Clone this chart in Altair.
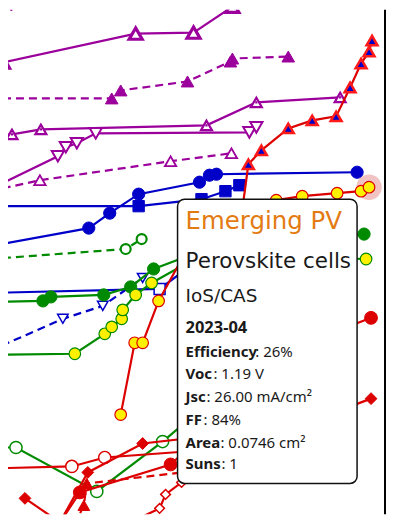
import altair as alt
import pandas as pd

# ---------------- data (years, efficiency %) ----------------
X_DOMAIN = [2008.8, 2023.92]
Y_DOMAIN = [9.6, 34.9]

# purple (multijunction-like) series
P1_year = [2008.28, 2009.60]
P1_eff = [34.40, 35.40]
P2_year = [2008.60, 2013.92, 2016.24, 2017.80]
P2_eff = [32.25, 33.70, 33.75, 35.05]
P3_year = [2008.08, 2012.96, 2013.32, 2016.00, 2017.72, 2017.80, 2020.04]
P3_eff = [30.45, 30.45, 30.85, 31.30, 32.30, 32.45, 32.55]
P4_year = [2008.08, 2008.96, 2010.12, 2016.76, 2018.76, 2022.12]
P4_eff = [28.55, 28.65, 28.90, 29.10, 30.25, 30.50]
P5_year = [2008.08, 2010.80, 2011.12, 2011.56, 2012.32, 2018.48, 2018.76]
P5_eff = [25.90, 27.55, 28.00, 28.20, 28.70, 28.75, 29.00]
P6_year = [2008.08, 2010.08, 2015.32, 2017.76]
P6_eff = [25.80, 26.35, 27.30, 27.70]

# blue series
B1_year = [2008.08, 2012.04, 2012.88, 2014.04, 2016.48, 2016.88, 2017.16, 2022.80]
B1_eff = [23.05, 23.95, 24.70, 25.65, 26.25, 26.60, 26.65, 26.75]
B2_year = [2008.08, 2014.04, 2016.56, 2017.52, 2018.08]
B2_eff = [25.05, 25.05, 25.40, 25.80, 26.10]
B3_year = [2008.08, 2014.88, 2016.28]
B3_eff = [20.70, 20.90, 22.20]
B4_year = [2008.08, 2011.00, 2012.60, 2014.20]
B4_eff = [17.80, 19.40, 20.05, 21.45]

# green series
G1_year = [2008.08, 2013.52, 2014.16]
G1_eff = [22.40, 22.90, 23.40]
G2_year = [2008.08, 2010.20, 2010.52, 2012.64, 2013.72, 2014.64, 2017.28, 2023.08]
G2_eff = [20.25, 20.30, 20.50, 20.60, 21.00, 21.90, 23.15, 23.65]
G3_year = [2008.08, 2011.48, 2012.68, 2012.96, 2013.36, 2013.40, 2013.92, 2014.56, 2016.48, 2023.16]
G3_eff = [17.60, 17.65, 18.65, 19.00, 19.40, 19.85, 20.60, 21.20, 22.55, 22.40]
G4_year = [2008.08, 2009.12, 2012.36, 2015.00, 2016.48]
G4_eff = [12.95, 12.95, 10.75, 13.25, 14.80]

# red series
R1_year = [2013.32, 2013.88, 2014.20, 2014.84, 2016.28, 2019.56, 2020.60, 2022.00, 2022.96, 2023.28]
R1_eff = [14.60, 18.20, 18.20, 20.30, 23.55, 25.35, 25.55, 25.70, 25.80, 26.00]
T_year = [2018.08, 2018.44, 2018.96, 2020.04, 2021.00, 2021.96, 2022.52, 2022.96, 2023.28, 2023.40]
T_eff = [23.80, 27.15, 27.85, 28.95, 29.35, 29.55, 31.00, 32.20, 32.80, 33.35]
R2_year = [2010.68, 2011.68, 2015.32, 2020.48, 2023.36]
R2_eff = [8.80, 10.70, 12.10, 18.05, 19.45]
R3_year = [2009.48, 2010.88, 2012.00, 2014.20, 2020.48, 2023.36]
R3_eff = [10.40, 9.20, 11.70, 13.15, 14.05, 15.40]
R4_year = [2008.08, 2011.36, 2012.68, 2016.48]
R4_eff = [11.90, 12.00, 12.45, 12.80]
R5_year = [2010.96, 2011.56, 2011.84, 2011.96, 2016.48]
R5_eff = [8.80, 9.30, 10.05, 11.15, 11.80]
R6_year = [2012.88, 2013.80, 2014.88, 2015.12, 2015.76, 2017.28]
R6_eff = [8.30, 9.25, 9.90, 10.60, 11.20, 11.80]

HL_YEAR = 2023.28
HL_EFF = 26.00

TIP_GROUP = "Emerging PV"
TIP_NAME = "Perovskite cells"
TIP_LAB = "IoS/CAS"
TIP_DATE = "2023-04"
TIP_KEYS = ["Efficiency", "Voc", "Jsc", "FF", "Area", "Suns"]
TIP_VALS = [": 26%", ": 1.19 V", ": 26.00 mA/cm\u00b2", ": 84%", ": 0.0746 cm\u00b2", ": 1"]

# ---------------- styles ----------------
PUR = "#9c009c"
BLU = "#0000c8"
GRN = "#008a00"
RED = "#dc0000"
YEL = "#fff000"
DASH = [8, 5]

SERIES = [
    ("P1", P1_year, P1_eff, dict(color=PUR, dash=[2, 4], shape="triangle-up", fill=PUR, stroke=PUR, sw=1, size=150)),
    ("P2", P2_year, P2_eff, dict(color=PUR, shape="triangle-up", fill="white", stroke=PUR, sw=3.2, size=170)),
    ("P3", P3_year, P3_eff, dict(color=PUR, dash=DASH, shape="triangle-up", fill=PUR, stroke=PUR, sw=1, size=160)),
    ("P4", P4_year, P4_eff, dict(color=PUR, shape="triangle-up", fill="white", stroke=PUR, sw=2.2, size=120, dot=True)),
    ("P5", P5_year, P5_eff, dict(color=PUR, shape="triangle-down", fill="white", stroke=PUR, sw=2, size=150)),
    ("P6", P6_year, P6_eff, dict(color=PUR, dash=DASH, shape="triangle-up", fill="white", stroke=PUR, sw=1.8, size=130)),
    ("B1", B1_year, B1_eff, dict(color=BLU, shape="circle", fill=BLU, stroke=BLU, sw=1, size=150)),
    ("B2", B2_year, B2_eff, dict(color=BLU, shape="square", fill=BLU, stroke=BLU, sw=1, size=130)),
    ("B3", B3_year, B3_eff, dict(color=BLU, shape="square", fill="white", stroke=BLU, sw=1.5, size=120)),
    ("B4", B4_year, B4_eff, dict(color=BLU, dash=DASH, shape="triangle-down", fill="white", stroke=BLU, sw=1.5, size=110)),
    ("G1", G1_year, G1_eff, dict(color=GRN, dash=DASH, shape="circle", fill="white", stroke=GRN, sw=2.2, size=100)),
    ("G2", G2_year, G2_eff, dict(color=GRN, shape="circle", fill=GRN, stroke=GRN, sw=1, size=150)),
    ("G3", G3_year, G3_eff, dict(color=GRN, shape="circle", fill=YEL, stroke=GRN, sw=1.2, size=135)),
    ("G4", G4_year, G4_eff, dict(color=GRN, shape="circle", fill="white", stroke=GRN, sw=1.5, size=150)),
    ("R4", R4_year, R4_eff, dict(color=RED, shape="circle", fill="white", stroke=RED, sw=1.5, size=150)),
    ("R5", R5_year, R5_eff, dict(color=RED, dash=DASH, shape="triangle-up", fill=RED, stroke=RED, sw=1, size=140)),
    ("R6", R6_year, R6_eff, dict(color=RED, shape="diamond", fill="white", stroke=RED, sw=1.5, size=95)),
    ("R3", R3_year, R3_eff, dict(color=RED, shape="diamond", fill=RED, stroke=RED, sw=1, size=140)),
    ("R2", R2_year, R2_eff, dict(color=RED, shape="circle", fill=RED, stroke=RED, sw=1, size=165)),
    ("T", T_year, T_eff, dict(color=RED, shape="triangle-up", fill=BLU, stroke="#ff1a1a", sw=2.5, size=120)),
    ("R1", R1_year, R1_eff, dict(color=RED, shape="circle", fill=YEL, stroke=RED, sw=1.2, size=135)),
]

WIDTH = 378
HEIGHT = 506

x_enc = alt.X("year:Q", scale=alt.Scale(domain=X_DOMAIN, nice=False, zero=False), axis=None)
y_enc = alt.Y("eff:Q", scale=alt.Scale(domain=Y_DOMAIN, nice=False, zero=False), axis=None)

layers = []
for name, yrs, effs, st in SERIES:
    if name == "R1":
        halo = alt.Chart(pd.DataFrame({"year": [HL_YEAR], "eff": [HL_EFF]})).mark_circle(
            size=650, color="#e07070", opacity=0.42, clip=True
        ).encode(x=x_enc, y=y_enc)
        layers.append(halo)
    df = pd.DataFrame({"year": yrs, "eff": effs, "i": list(range(len(yrs)))})
    base = alt.Chart(df).encode(x=x_enc, y=y_enc, order=alt.Order("i:Q"))
    lkw = dict(color=st["color"], strokeWidth=2.2, clip=True)
    if "dash" in st:
        lkw["strokeDash"] = st["dash"]
    layers.append(base.mark_line(**lkw))
    layers.append(
        base.mark_point(
            shape=st["shape"], size=st["size"], filled=True, fill=st["fill"],
            stroke=st["stroke"], strokeWidth=st["sw"], opacity=1, clip=True,
        )
    )
    if st.get("dot"):
        layers.append(
            base.mark_point(shape="square", size=5, filled=True, color=st["color"], opacity=1, clip=True, dy=1)
        )

one = alt.Data(values=[{}])

# right frame line
layers.append(alt.Chart(one).mark_rule(color="black", strokeWidth=2).encode(x=alt.value(WIDTH)))

# tooltip box
layers.append(
    alt.Chart(one).mark_rect(fill="white", stroke="#111111", strokeWidth=1.5, cornerRadius=7).encode(
        x=alt.value(170), x2=alt.value(350), y=alt.value(190), y2=alt.value(475)
    )
)

FONT_BIG = "DejaVu Sans"
FONT_SM = "Noto Sans"


def txt(text, x, y, size, color="#1a1a1a", weight="normal", font=FONT_BIG):
    return alt.Chart(one).mark_text(
        text=text, align="left", baseline="alphabetic", font=font,
        fontSize=size, fontWeight=weight, color=color,
    ).encode(x=alt.value(x), y=alt.value(y))


layers.append(txt(TIP_GROUP, 178, 220, 24.5, color="#e37b12"))
layers.append(txt(TIP_NAME, 178, 259, 21.5))
layers.append(txt(TIP_LAB, 178, 293, 18.5))
layers.append(txt(TIP_DATE, 178, 324, 16.5, weight="bold", font=FONT_SM))

key_ends = [248, 206, 199, 196, 213, 214]
baselines = [348, 370, 393, 416, 439, 461]
for k, v, xe, yb in zip(TIP_KEYS, TIP_VALS, key_ends, baselines):
    layers.append(txt(k, 178, yb, 15, weight="bold", font=FONT_SM))
    layers.append(txt(v, xe, yb, 15, font=FONT_SM))

chart = alt.layer(*layers).properties(
    width=WIDTH, height=HEIGHT, padding=0, background="white"
).configure_view(strokeWidth=0)

chart.save("out.html", embed_options={"renderer": "svg", "actions": False})
